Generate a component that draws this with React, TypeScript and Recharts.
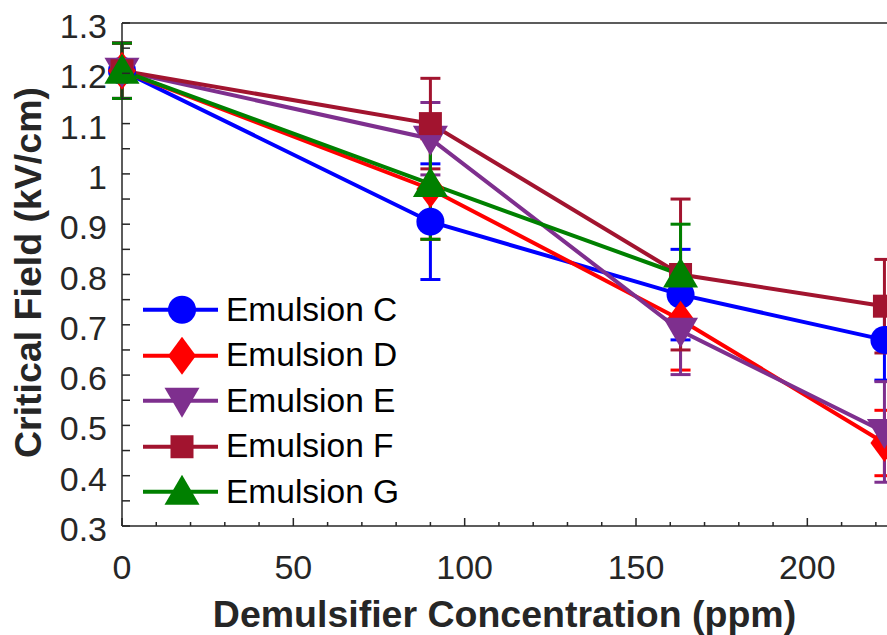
import { ErrorBar, Legend, Line, LineChart, XAxis, YAxis } from "recharts";

// demulsifier concentration (ppm)
const concentrations = [0, 90, 163, 222.5];

// critical field (kV/cm) and error half-widths per emulsion
const emulsionC = [1.205, 0.905, 0.76, 0.67];
const errC = [0.055, 0.115, 0.09, 0.08];
const emulsionD = [1.205, 0.97, 0.71, 0.465];
const errD = [0.055, 0.1, 0.1, 0.065];
const emulsionE = [1.205, 1.07, 0.688, 0.487];
const errE = [0.055, 0.072, 0.087, 0.1];
const emulsionF = [1.205, 1.1, 0.8, 0.737];
const errF = [0.055, 0.09, 0.15, 0.093];
const emulsionG = [1.205, 0.98, 0.8];
const errG = [0.055, 0.11, 0.1];

const xTicks = [0, 10, 20, 30, 40, 50, 60, 70, 80, 90, 100, 110, 120, 130, 140, 150, 160, 170, 180, 190, 200, 210, 220];
const xLabels = [0, 50, 100, 150, 200];
const yTicks = [0.3, 0.35, 0.4, 0.45, 0.5, 0.55, 0.6, 0.65, 0.7, 0.75, 0.8, 0.85, 0.9, 0.95, 1, 1.05, 1.1, 1.15, 1.2, 1.25, 1.3];
const yLabels = [0.3, 0.4, 0.5, 0.6, 0.7, 0.8, 0.9, 1, 1.1, 1.2, 1.3];

const INK = "#262626";
const FONT = "'Liberation Sans', Arial, Helvetica, sans-serif";

type Shape = "circle" | "diamond" | "triangleDown" | "square" | "triangleUp";

const series: { name: string; color: string; shape: Shape; values: number[]; errors: number[] }[] = [
  { name: "Emulsion C", color: "#0000FF", shape: "circle", values: emulsionC, errors: errC },
  { name: "Emulsion D", color: "#FF0000", shape: "diamond", values: emulsionD, errors: errD },
  { name: "Emulsion E", color: "#7E2F8E", shape: "triangleDown", values: emulsionE, errors: errE },
  { name: "Emulsion F", color: "#A2142F", shape: "square", values: emulsionF, errors: errF },
  { name: "Emulsion G", color: "#008000", shape: "triangleUp", values: emulsionG, errors: errG },
];

function Marker({ shape, cx, cy, color }: { shape: Shape; cx: number; cy: number; color: string }) {
  switch (shape) {
    case "circle":
      return <circle cx={cx} cy={cy} r={14} fill={color} />;
    case "diamond":
      return <polygon points={`${cx},${cy - 19} ${cx + 14},${cy} ${cx},${cy + 19} ${cx - 14},${cy}`} fill={color} />;
    case "triangleDown":
      return <polygon points={`${cx - 17.5},${cy - 13} ${cx + 17.5},${cy - 13} ${cx},${cy + 17}`} fill={color} />;
    case "square":
      return <rect x={cx - 11.5} y={cy - 11.5} width={23} height={23} fill={color} />;
    case "triangleUp":
      return <polygon points={`${cx - 17.5},${cy + 13} ${cx + 17.5},${cy + 13} ${cx},${cy - 17}`} fill={color} />;
  }
}

const dotFor = (shape: Shape, color: string) => (props: any) => {
  const { cx, cy, index } = props;
  if (cx == null || cy == null) return <g key={`d-${index}`} />;
  return (
    <g key={`d-${index}`}>
      <Marker shape={shape} cx={cx} cy={cy} color={color} />
    </g>
  );
};

function BottomTick({ x, y, payload }: any) {
  const major = xLabels.includes(payload.value);
  return (
    <g>
      <line x1={x} x2={x} y1={y} y2={y - (major ? 8 : 4)} stroke={INK} strokeWidth={1.5} />
      {major && (
        <text x={x} y={y + 53} textAnchor="middle" fontSize={34} fill={INK} fontFamily={FONT}>
          {payload.value}
        </text>
      )}
    </g>
  );
}

function TopTick({ x, y, payload }: any) {
  const major = xLabels.includes(payload.value);
  return <line x1={x} x2={x} y1={y} y2={y + (major ? 8 : 4)} stroke={INK} strokeWidth={1.5} />;
}

function LeftTick({ x, y, payload }: any) {
  const major = yLabels.includes(payload.value);
  return (
    <g>
      <line x1={x} x2={x + 8} y1={y} y2={y} stroke={INK} strokeWidth={1.5} />
      {major && (
        <text x={x - 15} y={y + 3} textAnchor="end" dominantBaseline="central" fontSize={34} fill={INK} fontFamily={FONT}>
          {String(payload.value)}
        </text>
      )}
    </g>
  );
}

function RightTick({ x, y }: any) {
  return <line x1={x} x2={x - 8} y1={y} y2={y} stroke={INK} strokeWidth={1.5} />;
}

function LegendContent() {
  return (
    <div style={{ fontFamily: FONT, fontSize: 33.5, color: "#000" }}>
      {series.map((s) => (
        <div key={s.name} style={{ display: "flex", alignItems: "center", height: 45.5 }}>
          <svg width={80} height={45.5} style={{ display: "block" }}>
            <line x1={3} x2={78} y1={22.75} y2={22.75} stroke={s.color} strokeWidth={4} />
            <Marker shape={s.shape} cx={42} cy={22.75} color={s.color} />
          </svg>
          <span style={{ marginLeft: 6, whiteSpace: "nowrap" }}>{s.name}</span>
        </div>
      ))}
    </div>
  );
}

export default function App() {
  return (
    <div style={{ position: "absolute", left: 0, top: 0, width: 887, height: 635, overflow: "hidden", background: "#fff" }}>
      <LineChart width={894} height={635} margin={{ top: 22, right: 0, bottom: 0, left: 0 }}>
        <XAxis
          xAxisId={0}
          type="number"
          dataKey="x"
          domain={[0, 225]}
          ticks={xTicks}
          interval={0}
          height={109}
          tickSize={0}
          tickMargin={0}
          tick={(p: any) => <BottomTick {...p} />}
          axisLine={{ stroke: INK, strokeWidth: 1.5 }}
          label={{
            content: ({ viewBox }: any) => (
              <text
                x={viewBox.x + viewBox.width / 2 - 3}
                y={viewBox.y + 101}
                textAnchor="middle"
                fontSize={37.5}
                fontWeight="bold"
                fill={INK}
                fontFamily={FONT}
              >
                Demulsifier Concentration (ppm)
              </text>
            ),
          }}
        />
        <XAxis
          xAxisId="top"
          orientation="top"
          type="number"
          dataKey="x"
          domain={[0, 225]}
          ticks={xTicks}
          interval={0}
          height={1}
          tickSize={0}
          tickMargin={0}
          tick={(p: any) => <TopTick {...p} />}
          axisLine={{ stroke: INK, strokeWidth: 1.5 }}
        />
        <YAxis
          yAxisId={0}
          type="number"
          domain={[0.3, 1.3]}
          ticks={yTicks}
          interval={0}
          width={122}
          tickSize={0}
          tickMargin={0}
          tick={(p: any) => <LeftTick {...p} />}
          axisLine={{ stroke: INK, strokeWidth: 1.5 }}
          label={{
            content: ({ viewBox }: any) => {
              const cx = viewBox.x + 28;
              const cy = viewBox.y + viewBox.height / 2 - 2;
              return (
                <text
                  x={cx}
                  y={cy}
                  transform={`rotate(-90, ${cx}, ${cy})`}
                  textAnchor="middle"
                  dominantBaseline="central"
                  fontSize={37.5}
                  fontWeight="bold"
                  fill={INK}
                  fontFamily={FONT}
                >
                  Critical Field (kV/cm)
                </text>
              );
            },
          }}
        />
        <YAxis
          yAxisId="right"
          orientation="right"
          type="number"
          domain={[0.3, 1.3]}
          ticks={yTicks}
          interval={0}
          width={1}
          tickSize={0}
          tickMargin={0}
          tick={(p: any) => <RightTick {...p} />}
          axisLine={{ stroke: INK, strokeWidth: 1.5 }}
        />
        <Legend
          layout="vertical"
          align="center"
          verticalAlign="middle"
          wrapperStyle={{ left: 140, top: 287, width: 300 }}
          content={() => <LegendContent />}
        />
        {series.map((s) => (
          <Line
            key={s.name}
            name={s.name}
            data={s.values.map((v, i) => ({ x: concentrations[i], y: v, err: s.errors[i] }))}
            dataKey="y"
            stroke={s.color}
            strokeWidth={4}
            dot={dotFor(s.shape, s.color)}
            activeDot={false}
            isAnimationActive={false}
          >
            <ErrorBar dataKey="err" direction="y" width={10} stroke={s.color} strokeWidth={3} isAnimationActive={false} />
          </Line>
        ))}
      </LineChart>
    </div>
  );
}
